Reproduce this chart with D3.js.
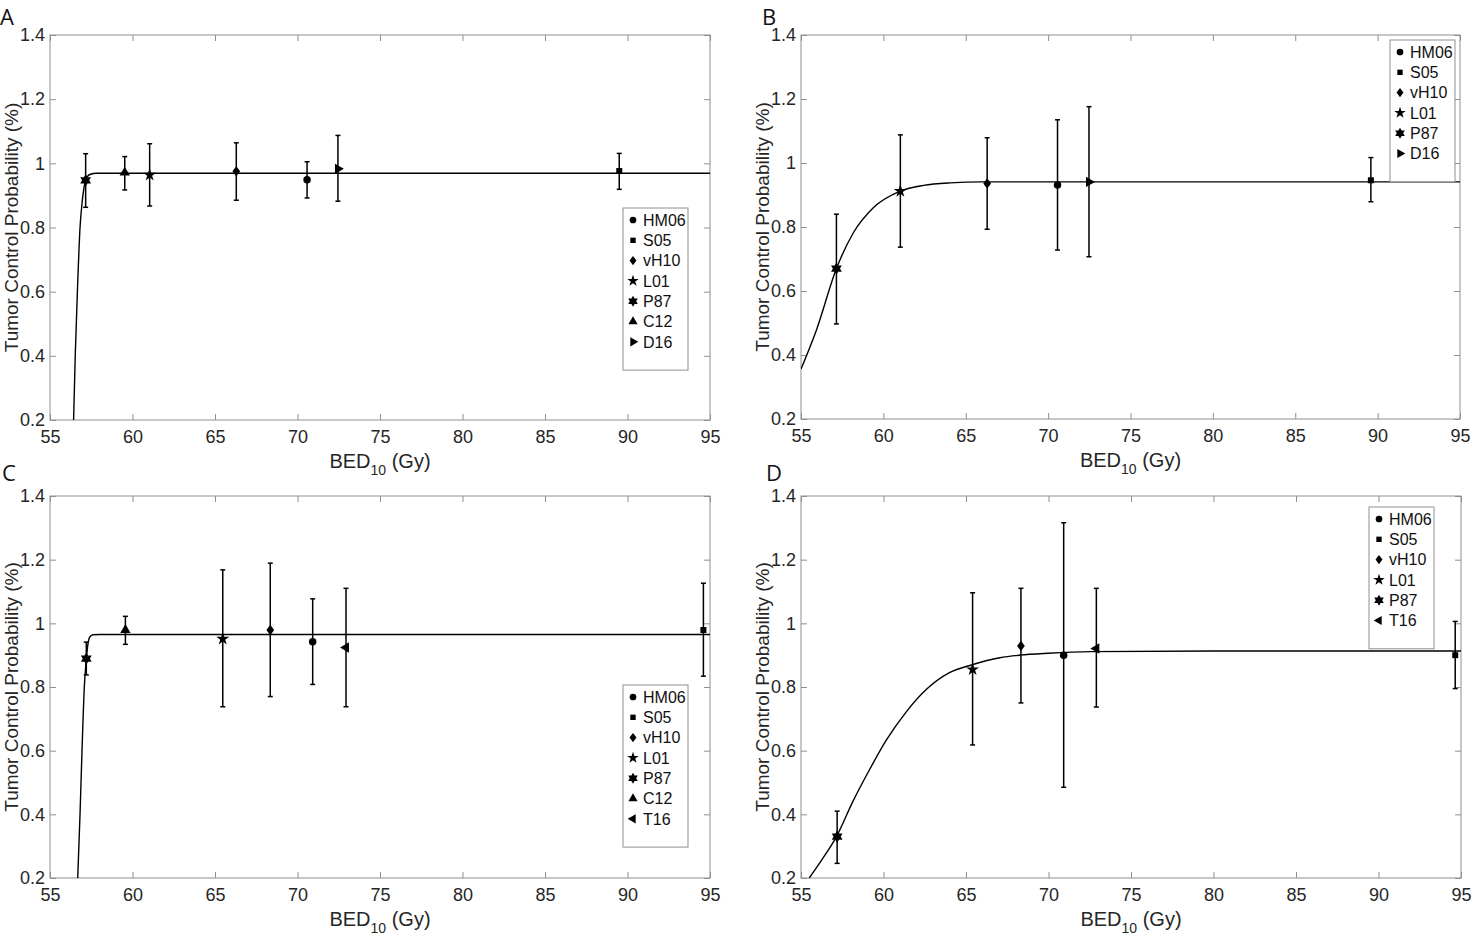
<!DOCTYPE html>
<meta charset="utf-8">
<style>
body { margin: 0; background: #fff; }
svg text { font-family: "Liberation Sans", Arial, sans-serif; fill: #262626; }
.letter { font-family: "Open Sans", sans-serif; font-size: 22px; fill: #111; }
.tick text { font-size: 18px; }
.axlabel { font-size: 20px; }
.ylabel { font-size: 19px; }
.legend text { font-size: 16px; fill: #111; }
</style>
<svg id="chart" width="1477" height="940"></svg>
<script src="https://cdn.jsdelivr.net/npm/d3@7"></script>
<script>

// panel A
let studiesA = ["P87", "C12", "L01", "vH10", "HM06", "D16", "S05"],
    bedA = [57.16, 59.53, 61.04, 66.29, 70.58, 72.45, 89.5],
    tcpA = [0.947, 0.971, 0.964, 0.975, 0.949, 0.983, 0.976],
    lowA = [0.863, 0.917, 0.867, 0.885, 0.892, 0.882, 0.919],
    highA = [1.030, 1.021, 1.061, 1.064, 1.005, 1.087, 1.031],
    legendA = ["HM06", "S05", "vH10", "L01", "P87", "C12", "D16"],
    fitXA = [56.43, 56.53, 56.66, 56.82, 56.95, 57.1, 57.25, 57.45, 57.8, 60, 95],
    fitYA = [0.2, 0.4, 0.6, 0.8, 0.88, 0.935, 0.958, 0.966, 0.969, 0.969, 0.969];

// panel B
let studiesB = ["P87", "L01", "vH10", "HM06", "D16", "S05"],
    bedB = [57.15, 61.03, 66.30, 70.57, 72.48, 89.59],
    tcpB = [0.670, 0.912, 0.936, 0.931, 0.941, 0.946],
    lowB = [0.497, 0.737, 0.793, 0.728, 0.707, 0.879],
    highB = [0.840, 1.088, 1.079, 1.135, 1.176, 1.017],
    legendB = ["HM06", "S05", "vH10", "L01", "P87", "D16"],
    fitXB = [55, 55.95, 57.15, 58.18, 59.39, 61.03, 62.43, 64.05, 66, 70, 95],
    fitYB = [0.356, 0.480, 0.670, 0.782, 0.860, 0.912, 0.930, 0.938, 0.941, 0.941, 0.941];

// panel C
let studiesC = ["P87", "C12", "L01", "vH10", "HM06", "T16", "S05"],
    bedC = [57.2, 59.57, 65.47, 68.35, 70.92, 72.94, 94.6],
    tcpC = [0.889, 0.979, 0.951, 0.979, 0.942, 0.924, 0.979],
    lowC = [0.838, 0.934, 0.738, 0.770, 0.808, 0.738, 0.834],
    highC = [0.941, 1.022, 1.168, 1.189, 1.077, 1.110, 1.126],
    legendC = ["HM06", "S05", "vH10", "L01", "P87", "C12", "T16"],
    fitXC = [56.68, 56.82, 56.94, 57.08, 57.2, 57.3, 57.42, 57.6, 58, 60, 95],
    fitYC = [0.2, 0.4, 0.6, 0.8, 0.885, 0.935, 0.958, 0.964, 0.965, 0.965, 0.965];

// panel D
let studiesD = ["P87", "L01", "vH10", "HM06", "T16", "S05"],
    bedD = [57.19, 65.4, 68.33, 70.92, 72.9, 94.65],
    tcpD = [0.330, 0.855, 0.929, 0.900, 0.921, 0.900],
    lowD = [0.246, 0.618, 0.750, 0.485, 0.737, 0.795],
    highD = [0.410, 1.096, 1.110, 1.316, 1.110, 1.006],
    legendD = ["HM06", "S05", "vH10", "L01", "P87", "T16"],
    fitXD = [55.5, 56.3, 57.15, 58.14, 59.15, 60.16, 61.38, 62.59, 64.0, 65.37, 67.05, 68.26, 70, 72.6, 80, 95],
    fitYD = [0.2, 0.26, 0.330, 0.440, 0.540, 0.632, 0.722, 0.792, 0.845, 0.870, 0.892, 0.900, 0.906, 0.911, 0.913, 0.913];

let xTicks = [55, 60, 65, 70, 75, 80, 85, 90, 95],
    yTicks = [0.2, 0.4, 0.6, 0.8, 1, 1.2, 1.4];

// six pointed star (MATLAB 'h')
let hexagram = {
  draw(ctx, size) {
    let r = Math.sqrt(size / 1.3), ri = r * 0.577;
    for (let i = 0; i < 12; i++) {
      let a = -Math.PI / 2 + i * Math.PI / 6, rr = i % 2 ? ri : r;
      if (i === 0) ctx.moveTo(rr * Math.cos(a), rr * Math.sin(a));
      else ctx.lineTo(rr * Math.cos(a), rr * Math.sin(a));
    }
    ctx.closePath();
  }
};

// MATLAB style diamond, wider than d3's
let diamond = {
  draw(ctx, size) {
    let h = Math.sqrt(size / 1.5), w = h * 0.75;
    ctx.moveTo(0, -h);
    ctx.lineTo(w, 0);
    ctx.lineTo(0, h);
    ctx.lineTo(-w, 0);
    ctx.closePath();
  }
};

let markers = {
  HM06: {type: d3.symbolCircle, size: 44, rot: 0},
  S05: {type: d3.symbolSquare, size: 36, rot: 0},
  vH10: {type: diamond, size: 40, rot: 0},
  L01: {type: d3.symbolStar, size: 52, rot: 0},
  P87: {type: hexagram, size: 50, rot: 0},
  C12: {type: d3.symbolTriangle, size: 46, rot: 0},
  D16: {type: d3.symbolTriangle, size: 46, rot: 90},
  T16: {type: d3.symbolTriangle, size: 46, rot: -90}
};

let panels = [
  {id: "A", letter: [0, 25], box: [50, 35, 710, 420], studies: studiesA, bed: bedA, tcp: tcpA, low: lowA, high: highA,
   legend: legendA, leg: [623, 208], fitX: fitXA, fitY: fitYA},
  {id: "B", letter: [762, 25], box: [801, 35, 1460, 419], studies: studiesB, bed: bedB, tcp: tcpB, low: lowB, high: highB,
   legend: legendB, leg: [1390, 40], fitX: fitXB, fitY: fitYB},
  {id: "C", letter: [2, 481], box: [50, 496, 710, 878], studies: studiesC, bed: bedC, tcp: tcpC, low: lowC, high: highC,
   legend: legendC, leg: [623, 685], fitX: fitXC, fitY: fitYC},
  {id: "D", letter: [766, 481], box: [801, 496, 1461, 878], studies: studiesD, bed: bedD, tcp: tcpD, low: lowD, high: highD,
   legend: legendD, leg: [1369, 507], fitX: fitXD, fitY: fitYD}
];

let svg = d3.select("#chart");
let axisColor = "#8f8f8f";

panels.forEach(p => {
  let [x0, y0, x1, y1] = p.box;
  let x = d3.scaleLinear().domain([55, 95]).range([x0, x1]);
  let y = d3.scaleLinear().domain([0.2, 1.4]).range([y1, y0]);
  let g = svg.append("g");

  g.append("text").attr("class", "letter")
      .attr("x", p.letter[0]).attr("y", p.letter[1]).text(p.id);

  // box
  g.append("rect")
      .attr("x", x0).attr("y", y0)
      .attr("width", x1 - x0).attr("height", y1 - y0)
      .attr("fill", "none").attr("stroke", axisColor);

  // axes with inward ticks, mirrored on top and right
  let xa = g.append("g").attr("transform", "translate(0," + y1 + ")")
      .call(d3.axisBottom(x).tickValues(xTicks).tickSizeInner(-6).tickSizeOuter(0).tickPadding(10));
  g.append("g").attr("transform", "translate(0," + y0 + ")")
      .call(d3.axisTop(x).tickValues(xTicks).tickSizeInner(-6).tickSizeOuter(0).tickFormat(""));
  g.append("g").attr("transform", "translate(" + x0 + ",0)")
      .call(d3.axisLeft(y).tickValues(yTicks).tickSizeInner(-6).tickSizeOuter(0).tickPadding(5).tickFormat(d3.format("~g")));
  g.append("g").attr("transform", "translate(" + x1 + ",0)")
      .call(d3.axisRight(y).tickValues(yTicks).tickSizeInner(-6).tickSizeOuter(0).tickFormat(""));
  g.selectAll(".domain").remove();
  g.selectAll(".tick line").attr("stroke", axisColor);
  xa.selectAll("text").attr("dy", "0.71em");

  // axis titles
  let lab = g.append("text").attr("class", "axlabel")
      .attr("x", (x0 + x1) / 2).attr("y", y1 + 48)
      .attr("text-anchor", "middle");
  lab.append("tspan").text("BED");
  lab.append("tspan").attr("font-size", "14px").attr("dy", 7).text("10");
  lab.append("tspan").attr("dy", -7).text(" (Gy)");

  g.append("text").attr("class", "ylabel")
      .attr("transform", "translate(" + (x0 - 32) + "," + ((y0 + y1) / 2) + ") rotate(-90)")
      .attr("text-anchor", "middle")
      .text("Tumor Control Probability (%)");

  // fitted curve
  let clipId = "clip" + p.id;
  g.append("clipPath").attr("id", clipId).append("rect")
      .attr("x", x0).attr("y", y0).attr("width", x1 - x0).attr("height", y1 - y0);
  let fit = p.fitX.map((v, i) => [v, p.fitY[i]]);
  g.append("path")
      .datum(fit)
      .attr("clip-path", "url(#" + clipId + ")")
      .attr("fill", "none").attr("stroke", "#000").attr("stroke-width", 1.4)
      .attr("d", d3.line().x(d => x(d[0])).y(d => y(d[1])).curve(d3.curveMonotoneX));

  // error bars
  let pts = p.studies.map((s, i) => ({s: s, x: p.bed[i], y: p.tcp[i], lo: p.low[i], hi: p.high[i]}));
  let eb = g.selectAll(".eb").data(pts).enter().append("g")
      .attr("stroke", "#000").attr("stroke-width", 1.5);
  eb.append("line")
      .attr("x1", d => x(d.x)).attr("x2", d => x(d.x))
      .attr("y1", d => y(d.lo)).attr("y2", d => y(d.hi));
  eb.append("line")
      .attr("x1", d => x(d.x) - 2.5).attr("x2", d => x(d.x) + 2.5)
      .attr("y1", d => y(d.lo)).attr("y2", d => y(d.lo));
  eb.append("line")
      .attr("x1", d => x(d.x) - 2.5).attr("x2", d => x(d.x) + 2.5)
      .attr("y1", d => y(d.hi)).attr("y2", d => y(d.hi));

  // markers
  g.selectAll(".pt").data(pts).enter().append("path")
      .attr("transform", d => "translate(" + x(d.x) + "," + y(d.y) + ") rotate(" + markers[d.s].rot + ")")
      .attr("d", d => d3.symbol().type(markers[d.s].type).size(markers[d.s].size)())
      .attr("fill", "#000");

  // legend
  let rowH = 20.3;
  let lg = g.append("g").attr("class", "legend")
      .attr("transform", "translate(" + p.leg[0] + "," + p.leg[1] + ")");
  lg.append("rect")
      .attr("width", 65).attr("height", p.legend.length * rowH + 20)
      .attr("fill", "#fff").attr("stroke", axisColor);
  let row = lg.selectAll(".row").data(p.legend).enter().append("g")
      .attr("transform", (d, i) => "translate(0," + (12 + i * rowH) + ")");
  row.append("path")
      .attr("transform", d => "translate(10,0) rotate(" + markers[d].rot + ")")
      .attr("d", d => d3.symbol().type(markers[d].type).size(markers[d].size * 0.8)())
      .attr("fill", "#000");
  row.append("text").attr("x", 20).attr("dy", "0.36em").text(d => d);
});

</script>
